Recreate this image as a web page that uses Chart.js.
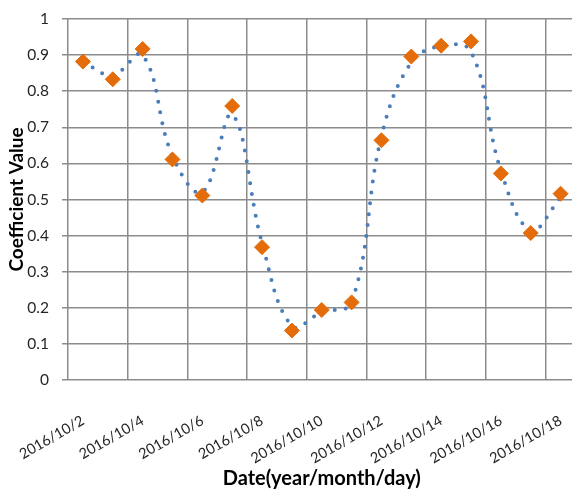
<!DOCTYPE html>
<html><head><meta charset="utf-8">
<script src="https://cdn.jsdelivr.net/npm/chart.js@4/dist/chart.umd.min.js"></script>
<style>
html,body{margin:0;padding:0;background:#fff;overflow:hidden;width:572px;height:491px}
#wrap{width:584px;height:491px;}
</style></head>
<body><div id="wrap"><canvas id="c" width="584" height="491"></canvas></div>
<script>
const dates = ['2016/10/2','2016/10/3','2016/10/4','2016/10/5','2016/10/6','2016/10/7','2016/10/8','2016/10/9','2016/10/10','2016/10/11','2016/10/12','2016/10/13','2016/10/14','2016/10/15','2016/10/16','2016/10/17','2016/10/18'];
const observed = [0.882,0.833,0.917,0.611,0.511,0.759,0.368,0.137,0.194,0.215,0.664,0.896,0.926,0.938,0.572,0.407,0.516];
const fitted   = [0.880,0.845,0.900,0.620,0.520,0.735,0.380,0.150,0.188,0.215,0.675,0.880,0.925,0.910,0.580,0.415,0.505];
const yTickLabels = ['0','0.1','0.2','0.3','0.4','0.5','0.6','0.7','0.8','0.9','1'];
const xTitle = 'Date(year/month/day)';
const yTitle = 'Coefficient Value';

const gridColor = '#8c8c8c';
new Chart(document.getElementById('c'), {
  type: 'line',
  data: {
    labels: dates,
    datasets: [
      { label: 'Observed', data: observed, showLine: false, pointStyle: 'rectRot', pointRadius: 7.5,
        pointBackgroundColor: '#e46c0a', pointBorderColor: '#e46c0a', pointBorderWidth: 1, order: 0 },
      { label: 'Fitted', data: fitted, borderColor: '#4a7ebb', borderWidth: 4, borderDash: [0, 11],
        borderCapStyle: 'round', tension: 0.4, pointRadius: 0, fill: false, order: 1 }
    ]
  },
  options: {
    responsive: false, animation: false,
    layout: { padding: { top: 19, left: 0, right: 0, bottom: 0 } },
    plugins: { legend: { display: false }, tooltip: { enabled: false } },
    scales: {
      x: {
        offset: true,
        grid: { offset: true, drawTicks: false, lineWidth: 1.5,
                color: c => (c.index % 2 === 0 ? gridColor : 'rgba(0,0,0,0)') },
        border: { display: false },
        ticks: { autoSkip: false, minRotation: 30, maxRotation: 30, padding: 32, color: '#262626',
                 font: { family: 'Lato', size: 14.5 },
                 callback: (v, i) => (i % 2 === 0 ? dates[i] : '') },
        title: { display: true, text: xTitle, color: '#000',
                 font: { family: 'Lato', size: 20, weight: 'bold' }, padding: { top: 0, bottom: 0 } },
        afterFit: s => { s.height = 111; s.paddingLeft = 0; s.paddingRight = 0; }
      },
      y: {
        min: 0, max: 1,
        grid: { color: gridColor, lineWidth: 1.5, tickLength: 6 },
        border: { display: false },
        ticks: { stepSize: 0.1, padding: 13, color: '#262626', font: { family: 'Lato', size: 15.5 },
                 callback: (v, i) => yTickLabels[i] },
        title: { display: true, text: yTitle, color: '#000',
                 font: { family: 'Lato', size: 19, weight: 'bold' }, padding: { top: 5, bottom: 0 } },
        afterFit: s => { s.width = 68; s.paddingTop = 0; s.paddingBottom = 0; }
      }
    }
  }
});
</script>
</body></html>
